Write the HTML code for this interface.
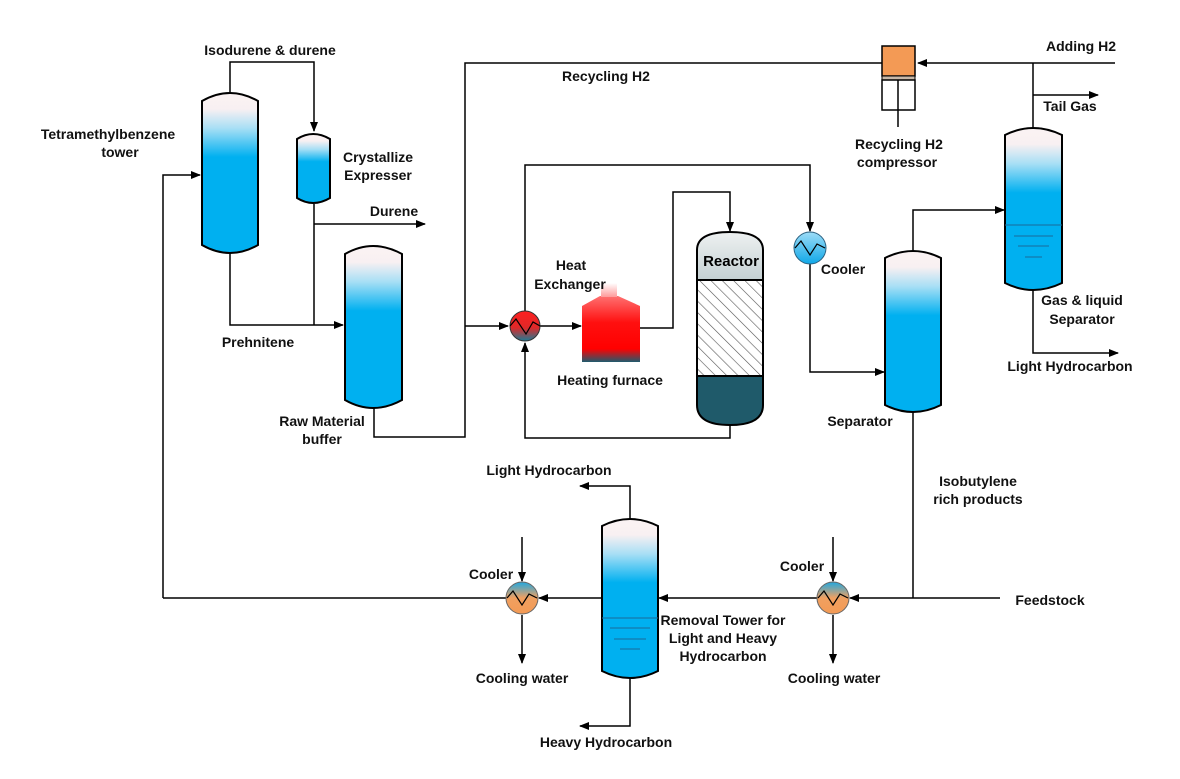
<!DOCTYPE html>
<html><head><meta charset="utf-8"><style>
html,body{margin:0;padding:0;background:#fff;}
svg{display:block;font-family:"Liberation Sans",Arial,sans-serif;font-weight:bold;font-size:14px;}
</style></head><body>
<svg width="1180" height="779" viewBox="0 0 1180 779" xmlns="http://www.w3.org/2000/svg">
<defs>
<linearGradient id="blue" x1="0" y1="0" x2="0" y2="1">
<stop offset="0" stop-color="#fbf3f3"/><stop offset="0.1" stop-color="#f8f0f2"/><stop offset="0.22" stop-color="#a8dff5"/><stop offset="0.4" stop-color="#00b0f0"/><stop offset="1" stop-color="#00b0f0"/></linearGradient>
<linearGradient id="hx" x1="0" y1="0" x2="0" y2="1"><stop offset="0" stop-color="#ff2020"/><stop offset="0.55" stop-color="#e02828"/><stop offset="1" stop-color="#1d7c95"/></linearGradient>
<linearGradient id="furn" x1="0" y1="0" x2="0" y2="1"><stop offset="0" stop-color="#ff7070"/><stop offset="0.4" stop-color="#ff1010"/><stop offset="0.8" stop-color="#ff0000"/><stop offset="1" stop-color="#1f5c6e"/></linearGradient>
<linearGradient id="chim" x1="0" y1="0" x2="0" y2="1"><stop offset="0" stop-color="#fff"/><stop offset="1" stop-color="#ff9a9a"/></linearGradient>
<linearGradient id="cool" x1="0" y1="0" x2="0" y2="1"><stop offset="0" stop-color="#20a8e0"/><stop offset="0.5" stop-color="#f0a060"/><stop offset="1" stop-color="#f39a55"/></linearGradient>
<linearGradient id="cb" x1="0" y1="0" x2="0" y2="1"><stop offset="0" stop-color="#9ddcf7"/><stop offset="1" stop-color="#10a8e8"/></linearGradient>
<linearGradient id="rtop" x1="0" y1="0" x2="0" y2="1"><stop offset="0" stop-color="#eef1f1"/><stop offset="1" stop-color="#c4d0d3"/></linearGradient>
<pattern id="hatch" width="8" height="8" patternUnits="userSpaceOnUse" patternTransform="rotate(-45)"><rect width="8" height="8" fill="#fff"/><line x1="0" y1="0" x2="0" y2="8" stroke="#555" stroke-width="1.2"/></pattern>
<marker id="a" markerWidth="10" markerHeight="8" refX="9" refY="4" orient="auto" markerUnits="userSpaceOnUse"><path d="M0,0 L10,4 L0,8 Z" fill="#000"/></marker>
</defs>
<g fill="none" stroke="#000" stroke-width="1.5">
<polyline points="230,93 230,62 314,62 314,131" marker-end="url(#a)"/>
<polyline points="230,253 230,325 343,325" marker-end="url(#a)"/>
<line x1="314" y1="204" x2="314" y2="325"/>
<line x1="314" y1="224" x2="425" y2="224" marker-end="url(#a)"/>
<polyline points="163,598 163,175 200,175" marker-end="url(#a)"/>
<polyline points="374,407 374,437 465,437 465,63 882,63"/>
<line x1="465" y1="326" x2="508" y2="326" marker-end="url(#a)"/>
<line x1="540" y1="326" x2="581" y2="326" marker-end="url(#a)"/>
<polyline points="640,328 673,328 673,192 730,192 730,231" marker-end="url(#a)"/>
<polyline points="730,425 730,438 525,438 525,343" marker-end="url(#a)"/>
<polyline points="525,311 525,165 810,165 810,231" marker-end="url(#a)"/>
<polyline points="810,264 810,372 884,372" marker-end="url(#a)"/>
<polyline points="913,251 913,210 1004,210" marker-end="url(#a)"/>
<line x1="1115" y1="63" x2="918" y2="63" marker-end="url(#a)"/>
<line x1="1033" y1="128" x2="1033" y2="63"/>
<line x1="1033" y1="95" x2="1098" y2="95" marker-end="url(#a)"/>
<polyline points="1033,290 1033,353 1118,353" marker-end="url(#a)"/>
<line x1="913" y1="412" x2="913" y2="598"/>
<line x1="1000" y1="598" x2="850" y2="598" marker-end="url(#a)"/>
<line x1="833" y1="537" x2="833" y2="581" marker-end="url(#a)"/>
<line x1="833" y1="615" x2="833" y2="663" marker-end="url(#a)"/>
<line x1="817" y1="598" x2="659" y2="598" marker-end="url(#a)"/>
<line x1="602" y1="598" x2="539" y2="598" marker-end="url(#a)"/>
<line x1="522" y1="537" x2="522" y2="581" marker-end="url(#a)"/>
<line x1="522" y1="615" x2="522" y2="663" marker-end="url(#a)"/>
<line x1="506" y1="598" x2="163" y2="598"/>
<polyline points="630,519 630,486 580,486" marker-end="url(#a)"/>
<polyline points="630,678 630,726 580,726" marker-end="url(#a)"/>
</g>
<g stroke="#000" stroke-width="2" fill="url(#blue)">
<path d="M202,101 Q230,85 258,101 L258,245 Q230,261 202,245 Z"/>
<path d="M297,139 Q313,129 330,139 L330,198 Q313,208 297,198 Z"/>
<path d="M345,254 Q373,238 402,254 L402,400 Q373,416 345,400 Z"/>
<path d="M885,258 Q913,244 941,258 L941,405 Q913,419 885,405 Z"/>
<path d="M1005,135 Q1033,121 1062,135 L1062,283 Q1033,297 1005,283 Z"/>
<path d="M602,526 Q630,512 658,526 L658,671 Q630,685 602,671 Z"/>
</g>
<g stroke="#1a6a9a" stroke-width="1">
<line x1="1005" y1="225" x2="1062" y2="225"/><line x1="1014" y1="236" x2="1053" y2="236"/><line x1="1018" y1="246" x2="1049" y2="246"/><line x1="1025" y1="257" x2="1042" y2="257"/>
<line x1="602" y1="618" x2="658" y2="618"/><line x1="610" y1="628" x2="650" y2="628"/><line x1="614" y1="639" x2="646" y2="639"/><line x1="620" y1="649" x2="640" y2="649"/>
</g>
<path d="M697,250 Q697,232 730,232 Q763,232 763,250 L763,280 L697,280 Z" fill="url(#rtop)" stroke="#000" stroke-width="2"/>
<rect x="697" y="280" width="66" height="96" fill="url(#hatch)" stroke="#000" stroke-width="2"/>
<path d="M697,376 L763,376 L763,405 Q763,425 730,425 Q697,425 697,405 Z" fill="#1f5a6a" stroke="#000" stroke-width="2"/>
<text x="731" y="266" text-anchor="middle" font-size="15">Reactor</text>
<path d="M582,306 L600,296 L618,296 L640,306 L640,362 L582,362 Z" fill="url(#furn)"/>
<rect x="601" y="283" width="16" height="14" fill="url(#chim)"/>
<circle cx="525" cy="326" r="15" fill="url(#hx)" stroke="#333" stroke-width="1"/>
<polyline points="510,326 516,319 526,334 533,322 540,326" fill="none" stroke="#000" stroke-width="1.2"/>
<circle cx="810" cy="248" r="16" fill="url(#cb)" stroke="#2a6080" stroke-width="1"/>
<polyline points="795,248 801,241 810,255 817,244 825,248" fill="none" stroke="#000" stroke-width="1.2"/>
<circle cx="522" cy="598" r="16" fill="url(#cool)" stroke="#666" stroke-width="1"/>
<polyline points="507,598 513,591 522,605 529,594 537,598" fill="none" stroke="#000" stroke-width="1.2"/>
<circle cx="833" cy="598" r="16" fill="url(#cool)" stroke="#666" stroke-width="1"/>
<polyline points="818,598 824,591 833,605 840,594 848,598" fill="none" stroke="#000" stroke-width="1.2"/>
<rect x="882" y="46" width="33" height="30" fill="#f39a55" stroke="#000" stroke-width="1.5"/>
<rect x="882" y="76" width="33" height="4" fill="#c8b8a8" stroke="#000" stroke-width="1"/>
<rect x="882" y="80" width="33" height="30" fill="#fff" stroke="#000" stroke-width="1.5"/>
<line x1="898" y1="80" x2="898" y2="127" stroke="#000" stroke-width="1.5"/>
<g fill="#111">
<text x="270" y="55" text-anchor="middle">Isodurene &amp; durene</text>
<text x="108" y="139" text-anchor="middle">Tetramethylbenzene</text>
<text x="120" y="157" text-anchor="middle">tower</text>
<text x="378" y="162" text-anchor="middle">Crystallize</text>
<text x="378" y="180" text-anchor="middle">Expresser</text>
<text x="394" y="216" text-anchor="middle">Durene</text>
<text x="258" y="347" text-anchor="middle">Prehnitene</text>
<text x="322" y="426" text-anchor="middle">Raw Material</text>
<text x="322" y="444" text-anchor="middle">buffer</text>
<text x="606" y="81" text-anchor="middle">Recycling H2</text>
<text x="571" y="270" text-anchor="middle">Heat</text>
<text x="570" y="289" text-anchor="middle">Exchanger</text>
<text x="610" y="385" text-anchor="middle">Heating furnace</text>
<text x="843" y="274" text-anchor="middle">Cooler</text>
<text x="860" y="426" text-anchor="middle">Separator</text>
<text x="899" y="149" text-anchor="middle">Recycling H2</text>
<text x="897" y="167" text-anchor="middle">compressor</text>
<text x="1081" y="51" text-anchor="middle">Adding H2</text>
<text x="1070" y="111" text-anchor="middle">Tail Gas</text>
<text x="1082" y="305" text-anchor="middle">Gas &amp; liquid</text>
<text x="1082" y="324" text-anchor="middle">Separator</text>
<text x="1070" y="371" text-anchor="middle">Light Hydrocarbon</text>
<text x="978" y="486" text-anchor="middle">Isobutylene</text>
<text x="978" y="504" text-anchor="middle">rich products</text>
<text x="1050" y="605" text-anchor="middle">Feedstock</text>
<text x="802" y="571" text-anchor="middle">Cooler</text>
<text x="834" y="683" text-anchor="middle">Cooling water</text>
<text x="723" y="625" text-anchor="middle">Removal Tower for</text>
<text x="723" y="643" text-anchor="middle">Light and Heavy</text>
<text x="723" y="661" text-anchor="middle">Hydrocarbon</text>
<text x="549" y="475" text-anchor="middle">Light Hydrocarbon</text>
<text x="491" y="579" text-anchor="middle">Cooler</text>
<text x="522" y="683" text-anchor="middle">Cooling water</text>
<text x="606" y="747" text-anchor="middle">Heavy Hydrocarbon</text>
</g>
</svg>
</body></html>
